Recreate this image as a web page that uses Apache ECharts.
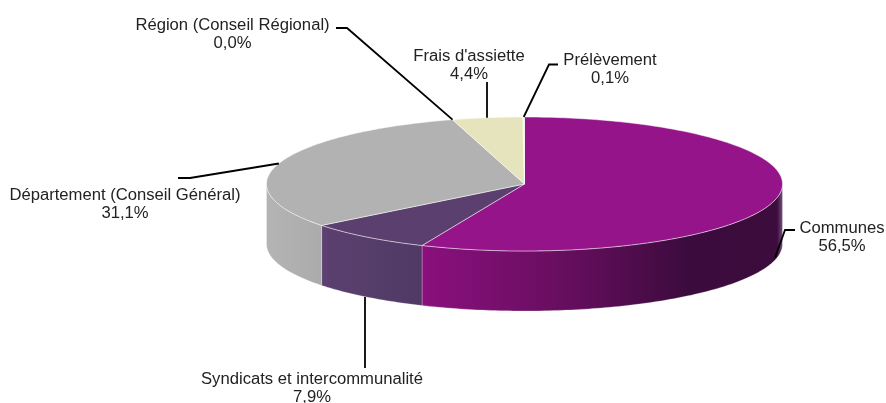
<!DOCTYPE html>
<html>
<head>
<meta charset="utf-8">
<style>
  html, body { margin: 0; padding: 0; background: #fff; }
  #chart { width: 886px; height: 403px; }
</style>
</head>
<body>
<div id="chart"></div>
<script src="https://cdn.jsdelivr.net/npm/echarts@6/dist/echarts.min.js"></script>
<script>
const categories = ['Communes', 'Syndicats et intercommunalité', 'Département (Conseil Général)', 'Région (Conseil Régional)', "Frais d'assiette", 'Prélèvement']
const values = [56.5, 7.9, 31.1, 0.0, 4.4, 0.1]

// pie geometry, tilted disc
const cx = 524.5
const cy = 184
const rx = 258
const ry = 67
const depth = 60

const topColors = ['#95148A', '#5B3F6E', '#B2B2B2', '#B2B2B2', '#E5E4BD', '#F3F0DC']
// wall gradients run left to right
const wallStops = [
  [[0, '#8A107E'], [0.4, '#660E5E'], [0.75, '#3A0B3C'], [0.985, '#3C0C3C'], [1, '#74507A']],
  [[0, '#5B4070'], [1, '#503A64']],
  [[0, '#B4B4B4'], [1, '#ABABAB']]
]

// label centre and the elbow of each leader line
const labelLayout = [
  { x: 842, y: 229, elbow: [[785, 230], [795, 230]], onWall: true, snapX: 775 },
  { x: 312, y: 380, elbow: [[365, 368]], onWall: true, snapX: 365 },
  { x: 125, y: 196, elbow: [[190, 178], [178, 178]] },
  { x: 232.5, y: 26, elbow: [[347, 28], [336, 28]] },
  { x: 469, y: 57, elbow: [[487, 82]], snapX: 487 },
  { x: 610, y: 61, elbow: [[549, 64.5], [558, 64.5]] }
]

const total = values.reduce((a, b) => a + b, 0)
let acc = 0
const slices = values.map((v) => {
  const start = acc / total * 360
  acc += v
  return { start, end: acc / total * 360 }
})

// angle in degrees, clockwise from 12 o'clock
function pt(deg, dy) {
  const a = deg * Math.PI / 180
  return [cx + rx * Math.sin(a), cy - ry * Math.cos(a) + (dy || 0)]
}

function arc(from, to, dy) {
  const pts = []
  const n = Math.max(1, Math.ceil(to - from))
  for (let i = 0; i <= n; i++) {
    pts.push(pt(from + (to - from) * i / n, dy))
  }
  return pts
}

function renderWall(params) {
  const i = params.dataIndex
  const from = Math.max(slices[i].start, 90)
  const to = Math.min(slices[i].end, 270)
  if (to <= from || !wallStops[i]) return null
  const top = arc(from, to, 0)
  const bottom = arc(from, to, depth).reverse()
  const xs = top.map((p) => p[0])
  const stops = wallStops[i].map((s) => ({ offset: s[0], color: s[1] }))
  return {
    type: 'polygon',
    shape: { points: top.concat(bottom) },
    style: {
      fill: new echarts.graphic.LinearGradient(Math.min(...xs), 0, Math.max(...xs), 0, stops, true),
      stroke: 'rgba(255,255,255,0.25)',
      lineWidth: 1
    }
  }
}

function renderTop(params) {
  const i = params.dataIndex
  if (slices[i].end <= slices[i].start) return null
  return {
    type: 'polygon',
    shape: { points: [[cx, cy]].concat(arc(slices[i].start, slices[i].end, 0)) },
    style: {
      fill: topColors[i],
      stroke: 'rgba(255,255,255,0.5)',
      lineWidth: 1
    }
  }
}

function renderLabel(params) {
  const i = params.dataIndex
  const l = labelLayout[i]
  const mid = (slices[i].start + slices[i].end) / 2
  const anchor = pt(mid, l.onWall ? depth : 0)
  if (l.snapX) anchor[0] = l.snapX
  return {
    type: 'group',
    children: [
      {
        type: 'polyline',
        shape: { points: [anchor].concat(l.elbow) },
        style: { stroke: '#000', lineWidth: 1.8, fill: 'none' }
      },
      {
        type: 'text',
        x: l.x,
        y: l.y - 9,
        scaleX: 1.04,
        style: {
          x: 0,
          y: 0,
          text: categories[i] + '\n' + values[i].toFixed(1).replace('.', ',') + '%',
          align: 'center',
          verticalAlign: 'top',
          lineHeight: 18,
          fontFamily: '"Liberation Sans", Arial, sans-serif',
          fontSize: 16,
          fill: '#222'
        }
      }
    ]
  }
}

const chart = echarts.init(document.getElementById('chart'))
const rows = categories.map((c, i) => [i, values[i]])
chart.setOption({
  animation: false,
  backgroundColor: '#fff',
  series: [
    { type: 'custom', coordinateSystem: 'none', data: rows, renderItem: renderWall, silent: true, z: 1 },
    { type: 'custom', coordinateSystem: 'none', data: rows, renderItem: renderTop, silent: true, z: 2 },
    { type: 'custom', coordinateSystem: 'none', data: rows, renderItem: renderLabel, silent: true, z: 3 }
  ]
})
window.onresize = () => {
  chart.resize()
}
</script>
</body>
</html>
